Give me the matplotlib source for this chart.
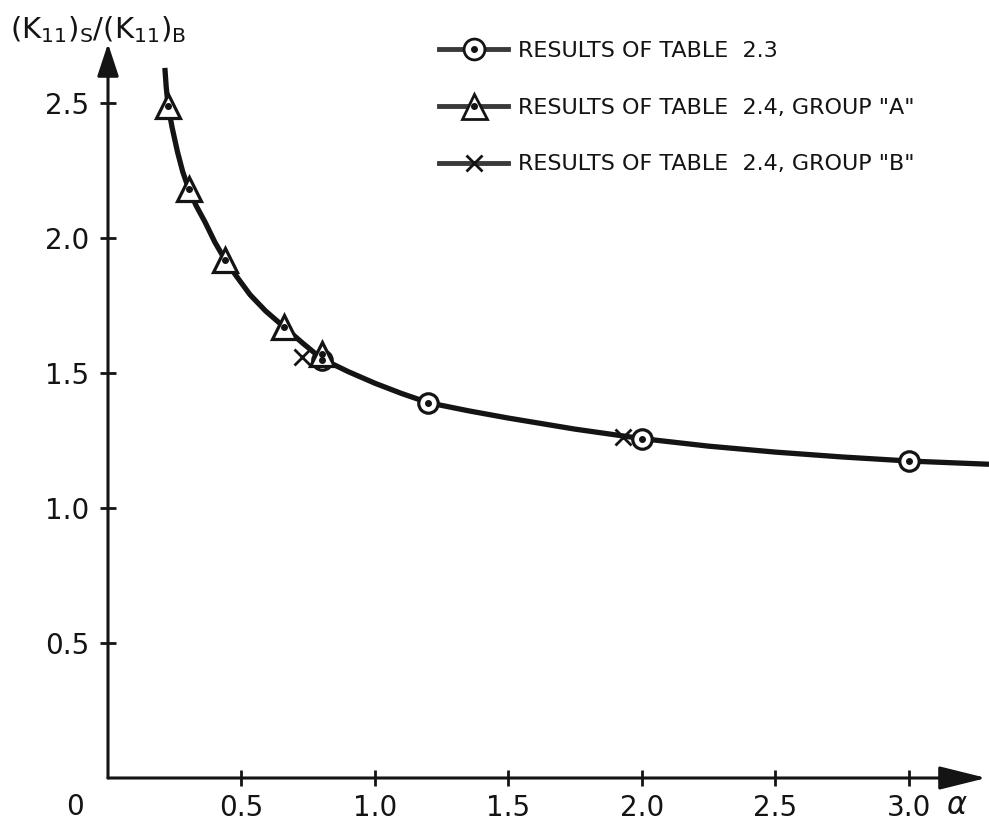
import matplotlib
matplotlib.use("Agg")
import matplotlib.pyplot as plt
from matplotlib.lines import Line2D
from matplotlib.legend_handler import HandlerTuple

# curve
curve_alpha = [0.213, 0.218, 0.225, 0.24, 0.26, 0.28, 0.303, 0.33, 0.363, 0.40, 0.438, 0.48,
               0.532, 0.59, 0.66, 0.73, 0.80, 0.90, 1.0, 1.1, 1.2, 1.35, 1.5, 1.75, 2.0,
               2.25, 2.5, 2.75, 3.0, 3.3]
curve_ratio = [2.63, 2.56, 2.49, 2.41, 2.32, 2.245, 2.18, 2.12, 2.06, 1.985, 1.92, 1.86,
               1.79, 1.73, 1.67, 1.61, 1.553, 1.505, 1.462, 1.424, 1.39, 1.36, 1.333, 1.292, 1.257,
               1.229, 1.207, 1.189, 1.174, 1.162]

# Table 2.3 results (circles)
t23_alpha = [0.80, 1.20, 2.00, 3.00]
t23_ratio = [1.55, 1.389, 1.255, 1.174]

# Table 2.4 group "A" (triangles)
grpA_alpha = [0.225, 0.303, 0.438, 0.66, 0.80]
grpA_ratio = [2.49, 2.18, 1.92, 1.67, 1.57]

# Table 2.4 group "B" (crosses)
grpB_alpha = [0.725, 1.929]
grpB_ratio = [1.56, 1.263]

x_ticks = [0.5, 1.0, 1.5, 2.0, 2.5, 3.0]
x_ticklabels = ["0.5", "1.0", "1.5", "2.0", "2.5", "3.0"]
y_ticks = [0.5, 1.0, 1.5, 2.0, 2.5]
y_ticklabels = ["0.5", "1.0", "1.5", "2.0", "2.5"]

ink = "#141414"

fig = plt.figure(figsize=(9.89, 8.24), dpi=100)
ax = fig.add_axes([108 / 989, 46 / 824, 881 / 989, 742.5 / 824])
ax.set_xlim(0, 3.3)
ax.set_ylim(0, 2.75)
for s in ax.spines.values():
    s.set_visible(False)

# axes with arrow heads
ax.annotate("", xy=(0, 2.72), xytext=(0, 0),
            arrowprops=dict(arrowstyle="-|>,head_length=1.0,head_width=0.33", lw=2.2,
                            color=ink, mutation_scale=20, shrinkA=0, shrinkB=0), annotation_clip=False)
ax.annotate("", xy=(3.29, 0), xytext=(0, 0),
            arrowprops=dict(arrowstyle="-|>,head_length=1.45,head_width=0.36", lw=2.2,
                            color=ink, mutation_scale=20, shrinkA=0, shrinkB=0), annotation_clip=False)

ax.set_xticks(x_ticks)
ax.set_xticklabels(x_ticklabels)
ax.set_yticks(y_ticks)
ax.set_yticklabels(y_ticklabels)
ax.tick_params(direction="inout", length=11, width=2, color=ink, labelsize=20, labelcolor=ink)
ax.tick_params(axis="x", pad=6)
ax.tick_params(axis="y", pad=8)

# curve
ax.plot(curve_alpha, curve_ratio, color=ink, lw=3.8, solid_capstyle="butt",
        solid_joinstyle="round", zorder=2)

# markers
ax.plot(grpB_alpha, grpB_ratio, ls="none", marker="x", ms=12, mew=2, color=ink, zorder=3)
ax.plot(t23_alpha, t23_ratio, ls="none", marker="o", ms=14, mfc="white", mec=ink, mew=2.3, zorder=4)
ax.plot(t23_alpha, t23_ratio, ls="none", marker="o", ms=4, color=ink, zorder=6)
ax.plot(grpA_alpha, grpA_ratio, ls="none", marker="^", ms=17, mfc="white", mec=ink, mew=2.3, zorder=5)
ax.plot(grpA_alpha, grpA_ratio, ls="none", marker="o", ms=4, color=ink, zorder=6)

# labels
fig.text(10 / 989, 1 - 30 / 824, r"(K$_{11}$)$_{\mathrm{S}}$/(K$_{11}$)$_{\mathrm{B}}$",
         fontsize=21, color=ink, va="center", ha="left")
fig.text(75 / 989, 1 - 807 / 824, "0", fontsize=20, color=ink, ha="center", va="center")
fig.text(957 / 989, 1 - 806 / 824, r"$\alpha$", fontsize=22, color=ink, ha="center", va="center")

# legend
leg_line = "#3a3a3a"
dot = Line2D([], [], ls="none", marker="o", ms=4, color=ink)
h1 = (Line2D([], [], color=leg_line, lw=3.5, marker="o", ms=15, mfc="white", mec=ink, mew=2), dot)
h2 = (Line2D([], [], color=leg_line, lw=3.5, marker="^", ms=18, mfc="white", mec=ink, mew=2), dot)
h3 = Line2D([], [], color=leg_line, lw=3.5, marker="x", ms=12, mew=2, mec=ink)
leg = ax.legend([h1, h2, h3],
                ["RESULTS OF TABLE  2.3",
                 'RESULTS OF TABLE  2.4, GROUP "A"',
                 'RESULTS OF TABLE  2.4, GROUP "B"'],
                handler_map={tuple: HandlerTuple(ndivide=1)},
                loc="upper left", bbox_to_anchor=(428 / 989, 1 - 30 / 824),
                bbox_transform=fig.transFigure, frameon=False, fontsize=16,
                handlelength=3.1, handletextpad=0.45, labelspacing=1.65, borderpad=0)
for t in leg.get_texts():
    t.set_color(ink)

plt.savefig("out.png", dpi=100)
plt.close()
